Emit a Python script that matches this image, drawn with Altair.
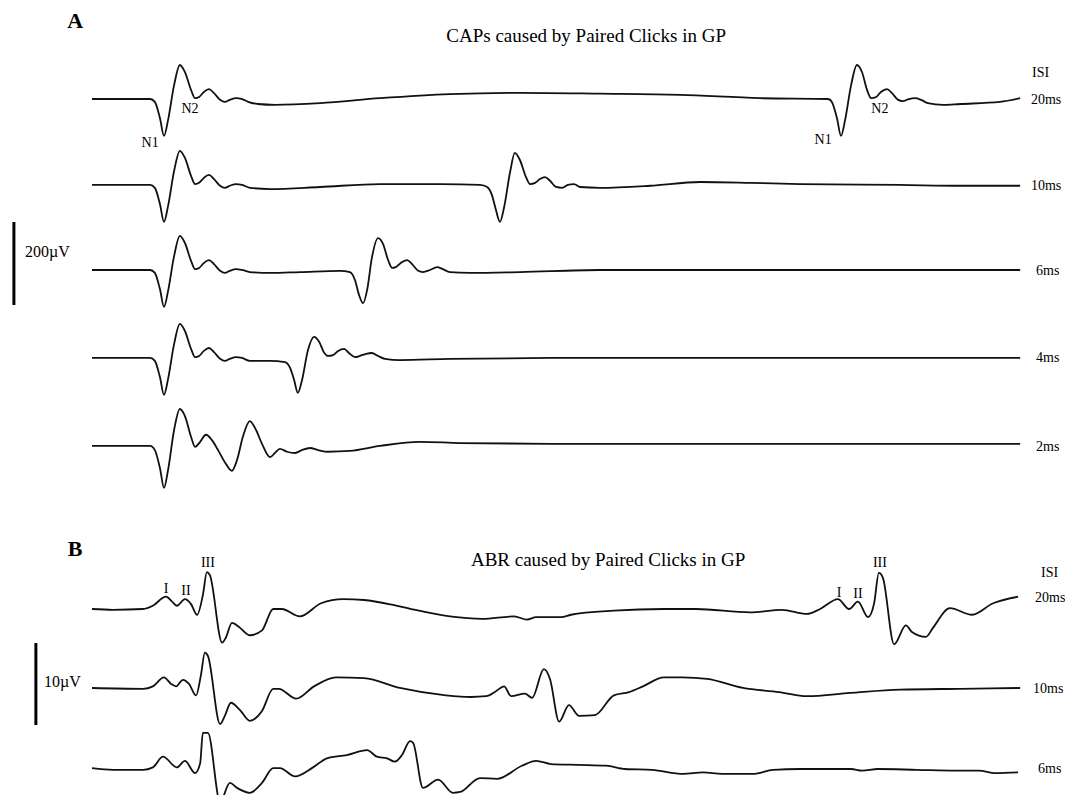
import altair as alt
import pandas as pd

SERIF = "Liberation Serif"

# ---------------- Panel A: CAPs  (time in ms, amplitude in µV) ----------------
CAP_20 = [(0, 0), (1.72, 0), (1.86, -7), (2.01, -46), (2.13, -89), (2.25, -51), (2.43, 34), (2.60, 82),
          (2.75, 65), (2.93, 22), (3.05, 2), (3.17, 5), (3.31, 17), (3.46, 24), (3.61, 14), (3.79, -2),
          (3.93, -7), (4.08, -2), (4.26, 2), (4.44, 0), (4.62, -7), (4.91, -12), (5.41, -14), (6.75, -10),
          (8.52, 2), (10.59, 12), (12.66, 15), (15.03, 13), (17.40, 10), (19.76, 2), (21.78, 0),
          (21.89, -7), (22.04, -46), (22.16, -89), (22.28, -51), (22.46, 34), (22.63, 82), (22.78, 65),
          (22.93, 22), (23.05, 2), (23.20, 5), (23.34, 17), (23.52, 24), (23.67, 14), (23.85, -2),
          (23.99, -5), (24.17, 0), (24.35, 2), (24.53, -2), (24.73, -10), (25.18, -14), (25.68, -12),
          (26.86, -7), (27.46, 2)]
CAP_10 = [(0, 0), (1.72, 0), (1.86, -7), (2.01, -46), (2.13, -89), (2.25, -51), (2.43, 34), (2.60, 82),
          (2.75, 65), (2.93, 22), (3.05, 2), (3.17, 5), (3.31, 17), (3.46, 24), (3.61, 14), (3.79, -2),
          (3.93, -7), (4.08, -2), (4.26, 2), (4.44, 0), (4.67, -7), (5.27, -10), (6.75, -5), (8.52, 2),
          (10.30, 2), (11.48, 0), (11.69, -5), (11.83, -24), (11.95, -60), (12.07, -89), (12.19, -55),
          (12.37, 31), (12.51, 77), (12.66, 60), (12.84, 19), (12.96, 2), (13.11, 5), (13.25, 14),
          (13.40, 19), (13.55, 10), (13.73, -5), (13.91, -7), (14.08, 0), (14.26, 2), (14.44, -5),
          (15.03, -7), (16.51, -2), (17.99, 7), (19.47, 5), (20.95, 2), (23.91, 0), (25.68, -2), (27.46, -2)]
CAP_6 = [(0, 0), (1.72, 0), (1.86, -7), (2.01, -46), (2.13, -89), (2.25, -51), (2.43, 34), (2.60, 82),
         (2.75, 65), (2.93, 22), (3.05, 2), (3.17, 5), (3.31, 17), (3.46, 24), (3.61, 14), (3.79, -2),
         (3.93, -7), (4.08, -2), (4.26, 2), (4.44, 0), (4.67, -5), (5.27, -7), (6.15, -5), (7.34, -2),
         (7.63, -5), (7.78, -24), (7.90, -60), (8.02, -80), (8.14, -48), (8.28, 29), (8.46, 77),
         (8.61, 63), (8.76, 24), (8.88, 5), (8.99, 7), (9.17, 19), (9.32, 24), (9.47, 14), (9.65, -2),
         (9.79, -5), (10.00, 0), (10.21, 7), (10.38, 2), (10.59, -5), (11.18, -7), (12.66, -5),
         (15.03, 0), (27.46, 0)]
CAP_4 = [(0, 0), (1.72, 0), (1.86, -7), (2.01, -46), (2.13, -89), (2.25, -51), (2.43, 34), (2.60, 82),
         (2.75, 65), (2.93, 22), (3.05, 2), (3.17, 5), (3.31, 17), (3.46, 24), (3.61, 14), (3.79, -2),
         (3.93, -7), (4.08, -2), (4.26, 2), (4.44, 0), (4.67, -7), (5.27, -7), (5.71, -10), (5.86, -24),
         (5.98, -53), (6.09, -84), (6.21, -55), (6.39, 19), (6.57, 51), (6.72, 39), (6.86, 14),
         (6.98, 5), (7.13, 7), (7.28, 17), (7.46, 22), (7.60, 12), (7.78, 2), (7.93, 5), (8.11, 10),
         (8.28, 12), (8.46, 5), (8.67, -2), (9.11, -5), (10.59, -2), (13.55, 0), (27.46, 0)]
CAP_2 = [(0, 0), (1.72, 0), (1.86, -10), (2.01, -53), (2.13, -101), (2.25, -58), (2.43, 39), (2.60, 89),
         (2.75, 72), (2.93, 22), (3.05, -2), (3.20, 10), (3.37, 27), (3.55, 14), (3.73, -10), (3.93, -39),
         (4.14, -60), (4.29, -34), (4.47, 24), (4.67, 60), (4.85, 39), (5.03, 5), (5.27, -27), (5.41, -17),
         (5.56, -7), (5.77, -14), (6.01, -17), (6.21, -10), (6.45, -5), (6.69, -10), (6.98, -14),
         (7.63, -12), (8.52, 0), (9.70, 10), (10.89, 7), (13.55, 5), (27.46, 5)]

CAP_NAMES = ["20ms", "10ms", "6ms", "4ms", "2ms"]
CAP_SERIES = [CAP_20, CAP_10, CAP_6, CAP_4, CAP_2]
CAP_BASE = [0, -207, -412, -624, -836]          # trace baselines (µV)

# ---------------- Panel B: ABR  (time in ms, amplitude in µV) ----------------
ABR_20 = [(0, 0), (0.62, -0.1), (1.51, 0), (1.80, 0.4), (2.19, 1.5), (2.37, 0.9), (2.51, 0.4), (2.75, 1.2),
          (2.93, 0.6), (3.11, -0.7), (3.28, 1.7), (3.40, 4.5), (3.49, 4.1), (3.85, -4.1), (3.96, -3.5),
          (4.14, -1.7), (4.38, -2.3), (4.67, -3.2), (5.03, -2.6), (5.36, 0), (5.62, 0), (6.15, -0.9),
          (6.78, 0.7), (7.43, 1.2), (8.05, 1.1), (8.91, 0.5), (9.44, 0), (10.59, -0.9), (11.54, -1.2),
          (12.49, -0.9), (12.87, -1.3), (13.14, -1.0), (13.88, -1.0), (14.17, -0.7), (15.44, -0.2),
          (16.92, 0), (17.87, 0), (19.47, -0.4), (20.41, -0.1), (21.15, -0.6), (21.54, 0), (22.07, 1.2),
          (22.40, 0), (22.66, 0.9), (22.96, -1.0), (23.14, 0.7), (23.28, 4.4), (23.40, 3.8), (23.73, -4.3),
          (24.08, -2.0), (24.26, -2.8), (24.67, -3.4), (24.88, -2.3), (25.38, 0.1), (26.04, -0.7),
          (26.66, 0.7), (27.40, 1.5)]
ABR_10 = [(0, 0), (1.51, -0.1), (1.80, 0.2), (2.13, 1.3), (2.34, 0.5), (2.49, 0.2), (2.69, 1.0), (2.87, 0.5),
          (3.08, -0.9), (3.22, 1.5), (3.34, 4.3), (3.43, 3.9), (3.79, -4.4), (3.93, -3.4), (4.11, -1.8),
          (4.38, -2.7), (4.67, -4.0), (5.03, -2.8), (5.36, -0.1), (5.53, -0.1), (6.04, -1.3), (6.57, 0.2),
          (7.22, 1.3), (8.05, 1.2), (9.11, 0), (10.47, -0.9), (11.21, -1.1), (11.66, -1.0), (11.95, -0.4),
          (12.19, 0.2), (12.40, -1.0), (12.81, -0.7), (13.02, -1.2), (13.37, 2.3), (13.55, 1.1),
          (13.82, -4.1), (14.11, -2.1), (14.41, -3.4), (14.88, -3.3), (15.44, -0.9), (15.89, -0.5),
          (16.30, 0.2), (16.92, 1.3), (17.46, 1.3), (18.20, 1.1), (19.26, 0), (20.33, -0.5), (21.15, -1.0),
          (22.43, -0.6), (23.91, -0.2), (25.68, -0.1), (27.46, 0)]
ABR_6 = [(0, 0.1), (0.62, -0.1), (1.51, -0.1), (1.80, 0.2), (2.10, 1.5), (2.51, 0.2), (2.75, 1.0), (3.05, -0.5),
         (3.20, 0.7), (3.28, 4.4), (3.43, 4.4), (3.79, -4.0), (4.08, -1.7), (4.29, -2.3), (4.67, -2.9),
         (5.03, -1.7), (5.36, 0.1), (5.56, 0.1), (6.01, -0.9), (6.54, 0.2), (6.95, 1.3), (7.54, 1.7),
         (8.14, 2.3), (8.43, 1.5), (8.73, 1.3), (8.96, 0.9), (9.17, 1.7), (9.41, 3.4), (9.50, 3.2),
         (9.79, -2.3), (10.24, -1.3), (10.68, -2.9), (10.89, -2.8), (11.48, -1.1), (11.98, -1.2),
         (12.72, 0.4), (13.14, 1.0), (13.58, 0.6), (14.38, 0.5), (15.21, 0.4), (15.77, 0), (16.57, -0.1),
         (17.49, -0.6), (18.08, -0.4), (18.64, -0.6), (19.56, -0.6), (20.15, -0.1), (20.95, 0), (22.46, 0),
         (22.78, -0.2), (23.25, 0), (24.41, -0.1), (25.56, -0.2), (26.24, -0.2), (26.72, -0.5), (27.40, -0.4)]

ABR_NAMES = ["20ms", "10ms", "6ms"]
ABR_SERIES = [ABR_20, ABR_10, ABR_6]
ABR_BASE = [0, -9.63, -19.51]                  # trace baselines (µV)

# ---------------- annotations (ms, µV) ----------------
CAP_LETTER = [("A", -0.50, 171)]
CAP_TITLE = [("CAPs caused by Paired Clicks in GP", 14.62, 137)]
CAP_RIGHT = [("ISI", 27.81, 53.7), ("20ms", 27.78, -12), ("10ms", 27.78, -219),
             ("6ms", 27.93, -424), ("4ms", 27.93, -634), ("2ms", 27.93, -848)]
CAP_PEAKS = [("N1", 1.72, -115.7), ("N2", 2.90, -33.7), ("N1", 21.63, -108), ("N2", 23.31, -33.7)]
CAP_BAR = [(-2.31, -296.4, -496.4)]
CAP_BAR_LABEL = [("200µV", -1.98, -381)]

ABR_LETTER = [("B", -0.50, 6.52)]
ABR_TITLE = [("ABR caused by Paired Clicks in GP", 15.27, 5.24)]
ABR_RIGHT = [("ISI", 28.08, 3.9), ("20ms", 27.90, 0.85), ("10ms", 27.84, -10.24), ("6ms", 27.99, -20.0)]
ABR_PEAKS = [("I", 2.19, 1.95), ("II", 2.78, 1.71), ("III", 3.43, 5.12),
             ("I", 22.10, 1.46), ("II", 22.66, 1.34), ("III", 23.31, 5.12)]
ABR_BAR = [(-1.66, -4.15, -14.15)]
ABR_BAR_LABEL = [("10µV", -1.42, -9.51)]

W, H = 1057, 787
XS = alt.Scale(domain=[-2.485, 28.787], nice=False, zero=False)
YA = alt.Scale(domain=[-1677.1, 219.3], nice=False, zero=False)
YB = alt.Scale(domain=[-22.68, 73.29], nice=False, zero=False)


def traces_df(names, series, base):
    rows = []
    for name, pts, b in zip(names, series, base):
        for i, (t, v) in enumerate(pts):
            rows.append({"trace": name, "i": i, "t": t, "y": v + b})
    return pd.DataFrame(rows)


def text_df(items):
    return pd.DataFrame([{"text": s, "t": t, "y": y} for s, t, y in items])


def lines(df, ys):
    return alt.Chart(df).mark_line(color="#111111", strokeWidth=1.8, interpolate="monotone").encode(
        x=alt.X("t:Q", scale=XS, axis=None),
        y=alt.Y("y:Q", scale=ys, axis=None),
        detail="trace:N",
        order="i:Q",
    )


def texts(items, ys, size, weight="normal", align="center"):
    return alt.Chart(text_df(items)).mark_text(
        font=SERIF, fontSize=size, fontWeight=weight, align=align, baseline="alphabetic", color="#000000"
    ).encode(
        x=alt.X("t:Q", scale=XS, axis=None),
        y=alt.Y("y:Q", scale=ys, axis=None),
        text="text:N",
    )


def bar(items, ys):
    df = pd.DataFrame([{"t": t, "y": a, "y2": b} for t, a, b in items])
    return alt.Chart(df).mark_rule(color="#000000", strokeWidth=3).encode(
        x=alt.X("t:Q", scale=XS, axis=None),
        y=alt.Y("y:Q", scale=ys, axis=None),
        y2="y2:Q",
    )


panel_a = alt.layer(
    lines(traces_df(CAP_NAMES, CAP_SERIES, CAP_BASE), YA),
    texts(CAP_LETTER, YA, 22, "bold"),
    texts(CAP_TITLE, YA, 19),
    texts(CAP_RIGHT, YA, 14, align="left"),
    texts(CAP_PEAKS, YA, 14),
    bar(CAP_BAR, YA),
    texts(CAP_BAR_LABEL, YA, 16, align="left"),
)

panel_b = alt.layer(
    lines(traces_df(ABR_NAMES, ABR_SERIES, ABR_BASE), YB),
    texts(ABR_LETTER, YB, 22, "bold"),
    texts(ABR_TITLE, YB, 19),
    texts(ABR_RIGHT, YB, 14, align="left"),
    texts(ABR_PEAKS, YB, 14),
    bar(ABR_BAR, YB),
    texts(ABR_BAR_LABEL, YB, 16, align="left"),
)

chart = (
    alt.layer(panel_a, panel_b)
    .resolve_scale(y="independent")
    .properties(width=W, height=H, autosize=alt.AutoSizeParams(type="none"), padding=0)
    .configure_view(stroke=None)
)

chart.save("out.html", embed_options={"renderer": "svg", "actions": False})
